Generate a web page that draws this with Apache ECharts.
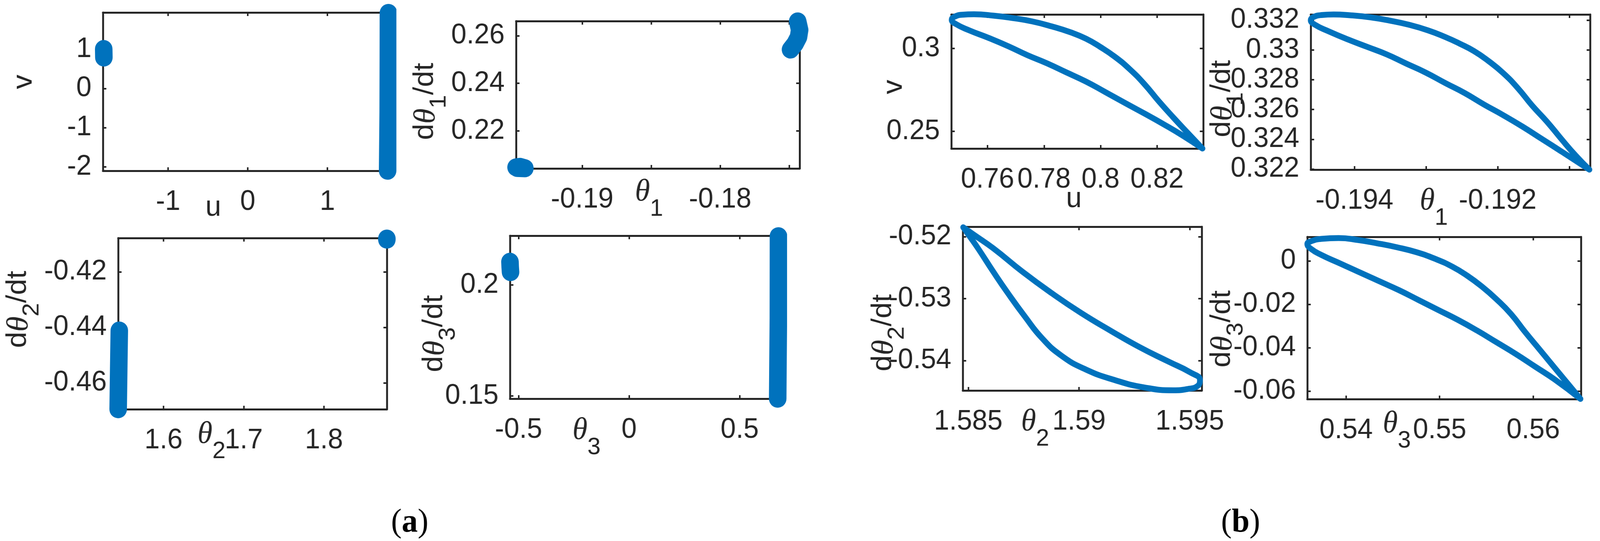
<!DOCTYPE html>
<html>
<head>
<meta charset="utf-8">
<title>phase portraits</title>
<script src="https://cdn.jsdelivr.net/npm/echarts@6/dist/echarts.min.js"></script>
<style>
  html, body { margin: 0; background: #fff; overflow: hidden; }
  #main { width: 4198px; height: 1384px; transform-origin: 0 0; }
</style>
</head>
<body>
<div id="main"></div>
<script>
// ---- panel (a), u / v
const a1LeftU = [-1.808, -1.807, -1.806];
const a1LeftV = [1.006, 0.9, 0.788];
const a1RightU = [1.766, 1.765, 1.763, 1.756];
const a1RightV = [1.926, 0.8, -0.6, -2.098];

// ---- panel (a), theta1
const a2LowU = [-0.19479, -0.1945, -0.19415, -0.1942, -0.1947];
const a2LowV = [0.2047, 0.2049, 0.2043, 0.204, 0.2044];
const a2HighU = [-0.17438, -0.17424, -0.17432, -0.17457, -0.1749];
const a2HighV = [0.26606, 0.26244, 0.25948, 0.25668, 0.25421];

// ---- panel (a), theta2
const a3HighU = [1.8784, 1.8784];
const a3HighV = [-0.408, -0.4084];
const a3LowU = [1.5449, 1.5442, 1.5435];
const a3LowV = [-0.44113, -0.455, -0.46951];

// ---- panel (a), theta3
const a4LeftU = [-0.539, -0.538, -0.5364];
const a4LeftV = [0.21039, 0.208, 0.20572];
const a4RightU = [0.6755, 0.675, 0.672];
const a4RightV = [0.2219, 0.185, 0.14877];

// ---- panel (b) loops
const b1U = [0.8361, 0.831, 0.8258, 0.8206, 0.8155, 0.8103, 0.8051, 0.7999, 0.7948, 0.7896, 0.7827, 0.7758, 0.769, 0.7621, 0.7552, 0.7509, 0.7479, 0.7473, 0.7487, 0.7535, 0.7603, 0.7672, 0.7741, 0.781, 0.7879, 0.7948, 0.8017, 0.8086, 0.8155, 0.8223, 0.8292, 0.8361];
const b1V = [0.2396, 0.2488, 0.2583, 0.2682, 0.2786, 0.2876, 0.295, 0.301, 0.306, 0.3097, 0.3134, 0.3164, 0.3184, 0.3199, 0.3207, 0.3204, 0.3189, 0.3174, 0.3149, 0.311, 0.3065, 0.3015, 0.296, 0.2911, 0.2856, 0.2801, 0.2737, 0.2672, 0.2608, 0.2543, 0.2473, 0.2396];

const b2U = [-0.19072, -0.19091, -0.19111, -0.19131, -0.19152, -0.19172, -0.19192, -0.19213, -0.19233, -0.19253, -0.19273, -0.19297, -0.19324, -0.19351, -0.19378, -0.19405, -0.19429, -0.19446, -0.19458, -0.19461, -0.19455, -0.19436, -0.19409, -0.19382, -0.19355, -0.19328, -0.19301, -0.19273, -0.19246, -0.19219, -0.19192, -0.19165, -0.19138, -0.19111, -0.19072];
const b2V = [0.32196, 0.3229, 0.32401, 0.32517, 0.32627, 0.32744, 0.32843, 0.32926, 0.32992, 0.33042, 0.33086, 0.33131, 0.33169, 0.33197, 0.33219, 0.33232, 0.33238, 0.33234, 0.33219, 0.332, 0.33169, 0.33125, 0.3307, 0.3302, 0.3297, 0.32909, 0.32849, 0.32777, 0.3271, 0.32633, 0.32561, 0.32484, 0.32401, 0.32318, 0.32196];

const b3U = [1.58477, 1.58525, 1.58613, 1.58745, 1.58877, 1.59008, 1.5914, 1.59272, 1.59404, 1.59502, 1.59546, 1.59535, 1.59491, 1.59426, 1.59294, 1.59162, 1.5903, 1.58921, 1.58833, 1.58756, 1.58679, 1.58613, 1.58547, 1.58504, 1.58477];
const b3V = [-0.51849, -0.51969, -0.52189, -0.52567, -0.52913, -0.53228, -0.53512, -0.5378, -0.54016, -0.54189, -0.54315, -0.5441, -0.54457, -0.54479, -0.54432, -0.54315, -0.54142, -0.53921, -0.53638, -0.53291, -0.52913, -0.52567, -0.52205, -0.51984, -0.51849];

const b4U = [0.56506, 0.56384, 0.56228, 0.56073, 0.55917, 0.55761, 0.55606, 0.5545, 0.55294, 0.55139, 0.54957, 0.5475, 0.54542, 0.54335, 0.54127, 0.5392, 0.53738, 0.53621, 0.53585, 0.53621, 0.53738, 0.53946, 0.54153, 0.54361, 0.54568, 0.54776, 0.54983, 0.55191, 0.55398, 0.55606, 0.55813, 0.56021, 0.56228, 0.56506];
const b4V = [-0.06361, -0.05729, -0.04917, -0.04105, -0.03293, -0.02436, -0.01759, -0.01173, -0.00677, -0.00271, 0.0009, 0.00406, 0.00632, 0.00812, 0.00966, 0.01056, 0.0102, 0.00902, 0.00785, 0.00569, 0.00271, -0.00135, -0.00541, -0.00947, -0.01353, -0.01804, -0.02256, -0.02707, -0.03203, -0.03744, -0.04286, -0.04872, -0.05459, -0.06361];

// ---- ticks: some ticks carry no label in the figure
const a1XTicks = [-1, 0, 1];
const a1YTicks = [-2, -1, 0, 1];
const a2XTicks = [-0.19, -0.185, -0.18, -0.175];
const a2XLabels = [-0.19, -0.18];
const a2YTicks = [0.22, 0.24, 0.26];
const a3XTicks = [1.6, 1.7, 1.8];
const a3YTicks = [-0.46, -0.44, -0.42];
const a4XTicks = [-0.5, 0, 0.5];
const a4YTicks = [0.15, 0.2];
const b1XTicks = [0.76, 0.78, 0.8, 0.82];
const b1YTicks = [0.25, 0.3];
const b2XTicks = [-0.194, -0.193, -0.192, -0.191];
const b2XLabels = [-0.194, -0.192];
const b2YTicks = [0.322, 0.324, 0.326, 0.328, 0.33, 0.332];
const b3XTicks = [1.585, 1.59, 1.595];
const b3YTicks = [-0.54, -0.53, -0.52];
const b4XTicks = [0.54, 0.55, 0.56];
const b4YTicks = [-0.06, -0.04, -0.02, 0];

const BLUE = '#0072BD';
const INK = '#262626';

function zip(xs, ys) {
    return xs.map((x, i) => [x, ys[i]]);
}

// frame in pixels, axis limits, ticks, curves
const panels = [
    { box: [270, 32, 747, 405], xr: [-1.818, 1.756], yr: [-2.1, 1.936], xt: a1XTicks, yt: a1YTicks,
      curves: [zip(a1LeftU, a1LeftV), zip(a1RightU, a1RightV)], width: 46 },
    { box: [1354, 54, 744, 377], xr: [-0.19479, -0.17424], yr: [0.20421, 0.26617], xt: a2XTicks, xl: a2XLabels, yt: a2YTicks,
      curves: [zip(a2LowU, a2LowV), zip(a2HighU, a2HighV)], width: 46 },
    { box: [310, 609, 705, 438], xr: [1.5435, 1.8784], yr: [-0.46951, -0.40782], xt: a3XTicks, yt: a3YTicks,
      curves: [zip(a3HighU, a3HighV), zip(a3LowU, a3LowV)], width: 46 },
    { box: [1338, 603, 704, 417], xr: [-0.539, 0.6747], yr: [0.14877, 0.2221], xt: a4XTicks, yt: a4YTicks,
      curves: [zip(a4LeftU, a4LeftV), zip(a4RightU, a4RightV)], width: 46 },
    { box: [2496, 37, 661, 343], xr: [0.74717, 0.83637], yr: [0.23958, 0.3206], xt: b1XTicks, yt: b1YTicks,
      curves: [zip(b1U, b1V)], width: 15, smooth: 0.5 },
    { box: [3439, 37, 733, 397], xr: [-0.19461, -0.19071], yr: [0.32196, 0.33238], xt: b2XTicks, xl: b2XLabels, yt: b2YTicks,
      curves: [zip(b2U, b2V)], width: 15, smooth: 0.5 },
    { box: [2526, 580, 627, 419], xr: [1.58475, 1.59554], yr: [-0.54482, -0.5184], xt: b3XTicks, yt: b3YTicks,
      curves: [zip(b3U, b3V)], width: 15, smooth: 0.5 },
    { box: [3430, 606, 718, 415], xr: [0.53585, 0.56511], yr: [-0.0637, 0.0111], xt: b4XTicks, yt: b4YTicks,
      curves: [zip(b4U, b4V)], width: 15, smooth: 0.5 }
];

const grids = [], xAxes = [], yAxes = [], series = [];

function makeAxis(gridIndex, pos, range, ticks, labels, margin) {
    return {
        type: 'value',
        gridIndex: gridIndex,
        position: pos,
        min: range[0],
        max: range[1],
        axisLine: { show: true, onZero: false, lineStyle: { color: INK, width: 5 } },
        axisTick: { show: true, inside: true, length: 9, lineStyle: { color: INK, width: 4 }, customValues: ticks },
        axisLabel: labels
            ? { show: true, margin: margin, customValues: labels, color: INK, fontFamily: 'Liberation Sans', fontSize: 72 }
            : { show: false },
        splitLine: { show: false }
    };
}

panels.forEach((p, i) => {
    grids.push({ left: p.box[0], top: p.box[1], width: p.box[2], height: p.box[3], containLabel: false });
    xAxes.push(makeAxis(i, 'bottom', p.xr, p.xt, p.xl || p.xt, 44));
    xAxes.push(makeAxis(i, 'top', p.xr, p.xt, null));
    yAxes.push(makeAxis(i, 'left', p.yr, p.yt, p.yt, 30));
    yAxes.push(makeAxis(i, 'right', p.yr, p.yt, null));
    p.curves.forEach(curve => {
        series.push({
            type: 'line',
            xAxisIndex: i * 2,
            yAxisIndex: i * 2,
            data: curve,
            symbol: 'none',
            smooth: p.smooth || false,
            clip: false,
            z: 5,
            lineStyle: { color: BLUE, width: p.width, cap: 'round', join: 'round' }
        });
    });
});

// axis names sit inside the tick label rows, so they are placed by hand
function nameRich(subDrop) {
    return {
        m: { fontFamily: 'Liberation Sans', fontSize: 74, lineHeight: 74, verticalAlign: 'top', fill: INK },
        t: { fontFamily: 'Liberation Serif', fontStyle: 'italic', fontSize: 80, lineHeight: 74, verticalAlign: 'top', fill: INK },
        s: { fontFamily: 'Liberation Sans', fontSize: 62, lineHeight: subDrop, verticalAlign: 'bottom', fill: INK }
    };
}

function nameText(text, x, y, rotated) {
    return {
        type: 'text',
        x: x,
        y: y,
        rotation: rotated ? Math.PI / 2 : 0,
        z: 10,
        style: { text: text, rich: nameRich(rotated ? 104 : 114), align: 'left', verticalAlign: 'top', fill: INK }
    };
}

function caption(letter, x) {
    return {
        type: 'text',
        x: x,
        y: 1338,
        z: 10,
        style: {
            text: '{p|(}{b|' + letter + '}{p|)}',
            align: 'center',
            verticalAlign: 'middle',
            rich: {
                p: { fontFamily: 'Liberation Serif', fontSize: 84, fill: '#000' },
                b: { fontFamily: 'Liberation Serif', fontWeight: 'bold', fontSize: 84, fill: '#000' }
            }
        }
    };
}

const names = [
    nameText('{m|v}', 26, 228, true),
    nameText('{m|u}', 539, 495, false),
    nameText('{m|d}{t|θ}{s|1}{m|/dt}', 1079, 358, true),
    nameText('{t|θ}{s|1}', 1666, 452, false),
    nameText('{m|d}{t|θ}{s|2}{m|/dt}', 11, 890, true),
    nameText('{t|θ}{s|2}', 518, 1072, false),
    nameText('{m|d}{t|θ}{s|3}{m|/dt}', 1103, 952, true),
    nameText('{t|θ}{s|3}', 1502, 1062, false),
    nameText('{m|v}', 2309, 241, true),
    nameText('{m|u}', 2797, 473, false),
    nameText('{m|d}{t|θ}{s|1}{m|/dt}', 3170, 351, true),
    nameText('{t|θ}{s|1}', 3725, 475, false),
    nameText('{m|d}{t|θ}{s|2}{m|/dt}', 2281, 950, true),
    nameText('{t|θ}{s|2}', 2679, 1040, false),
    nameText('{m|d}{t|θ}{s|3}{m|/dt}', 3170, 940, true),
    nameText('{t|θ}{s|3}', 3628, 1045, false),
    caption('a', 1075),
    caption('b', 3255)
];

const option = {
    backgroundColor: '#fff',
    animation: false,
    grid: grids,
    xAxis: xAxes,
    yAxis: yAxes,
    series: series,
    graphic: names
};

// the window can come up narrower than the figure, squeeze so nothing is cut off
const mainDiv = document.querySelector('#main');
if (window.innerWidth < 4198) {
    mainDiv.style.transform = 'scaleX(' + (window.innerWidth / 4198) + ')';
}

let plot = echarts.init(mainDiv);
plot.setOption(option);
</script>
</body>
</html>
